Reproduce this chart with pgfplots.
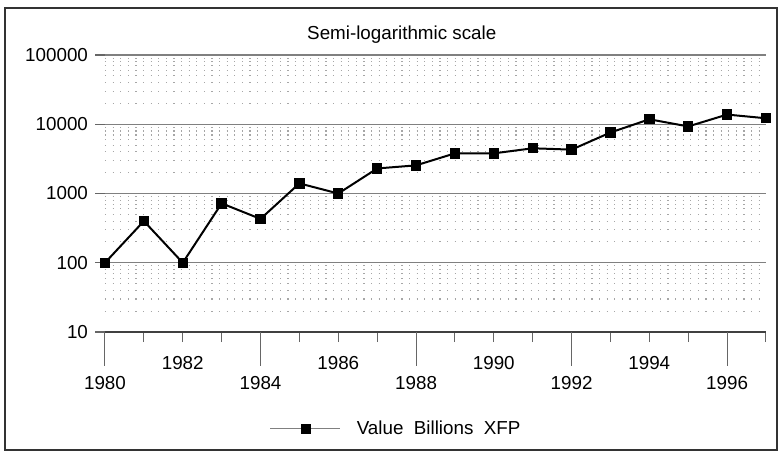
\documentclass[border=0pt]{standalone}
\usepackage{pgfplots}
\pgfplotsset{compat=1.18}
\usepackage{fontspec}
\setmainfont{Liberation Sans}
\begin{document}
\begin{tikzpicture}
\begin{axis}[
  scale only axis,
  width=330.5pt, height=138.5pt,
  ymode=log,
  xmin=1980, xmax=1997,
  ymin=10, ymax=100000,
  clip=false,
  font=\fontsize{9.4}{11}\selectfont,
  axis lines*=left,
  y axis line style={draw=none},
  x axis line style={black!75, line width=0.7pt},
  tick align=outside,
  ytick={10,100,1000,10000,100000},
  yticklabels={10,100,1000,10000,100000},
  ytick style={black!60, line width=0.6pt},
  major tick length=5pt,
  minor tick length=0pt,
  ymajorgrids, yminorgrids,
  major grid style={black!50, line width=0.6pt},
  minor grid style={black!35, line width=0.55pt, dash pattern=on 0.6pt off 3.2pt},
  xtick={1980,...,1997},
  xticklabels={,,1982,,,,1986,,,,1990,,,,1994,,,},
  xticklabel style={yshift=-3.5pt},
  xtick style={black!60, line width=0.5pt},
  extra x ticks={1980,1984,1988,1992,1996},
  extra x tick labels={1980,1984,1988,1992,1996},
  extra x tick style={major tick length=17pt, xticklabel style={yshift=2pt}},
  title={Semi-logarithmic scale},
  title style={at={(0.449,1)}, anchor=base, yshift=2pt},
  legend style={draw=none, fill=none, at={(0.442,-0.35)}, anchor=center, font=\fontsize{9.4}{11}\selectfont},
  legend image code/.code={
    \draw[black!50, line width=0.5pt] (0pt,0pt) -- (35pt,0pt);
    \draw[black, fill=black] (15.8pt,-2pt) rectangle (19.8pt,2pt);
  },
]
\addplot[black, line width=1pt, mark=square*, mark size=2.1pt] coordinates {
(1980,100) (1981,400) (1982,100) (1983,720) (1984,430) (1985,1400)
(1986,1000) (1987,2300) (1988,2550) (1989,3800) (1990,3800) (1991,4500)
(1992,4300) (1993,7600) (1994,11800) (1995,9300) (1996,13800) (1997,12200)
};
\addlegendentry{\hspace{6pt}Value\ \ Billions\ \ XFP}
\draw[black!80, line width=0.9pt] ([xshift=-50pt,yshift=-59pt]rel axis cs:0,0) rectangle ([xshift=5.5pt,yshift=23.5pt]rel axis cs:1,1);
\path ([xshift=-52.5pt,yshift=-61pt]rel axis cs:0,0) rectangle ([xshift=8pt,yshift=27.5pt]rel axis cs:1,1);
\end{axis}
\end{tikzpicture}
\end{document}
